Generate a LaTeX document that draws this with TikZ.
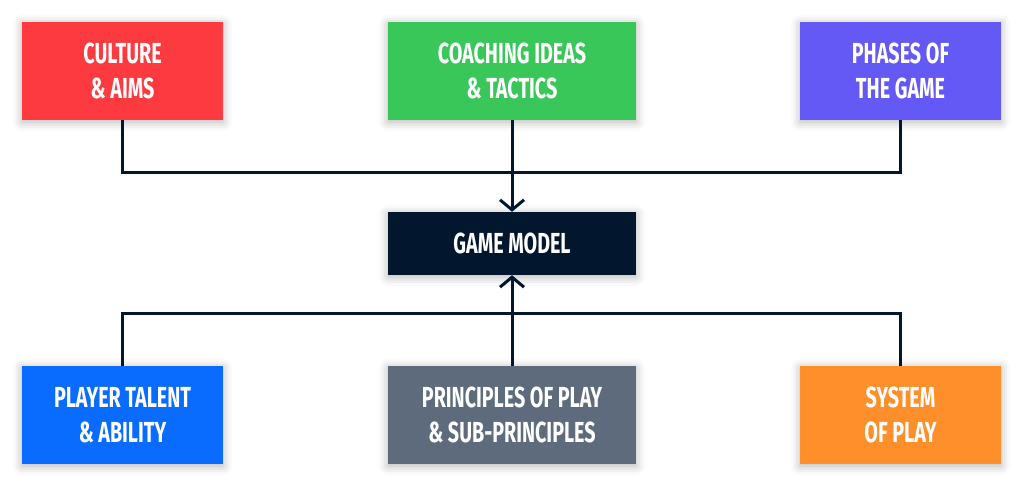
\documentclass[tikz,border=0pt]{standalone}
\usepackage{fontspec}
\newfontfamily\boxfont[FakeStretch=0.68]{Fira Sans}
\usepackage{xcolor}
\usetikzlibrary{arrows.meta}
\usetikzlibrary{shadows.blur}

\definecolor{navy}{HTML}{02172E}
\definecolor{boxred}{HTML}{FD3A3F}
\definecolor{boxgreen}{HTML}{39C75A}
\definecolor{boxpurple}{HTML}{6459F5}
\definecolor{boxblue}{HTML}{0A6CFF}
\definecolor{boxgray}{HTML}{5D6B7C}
\definecolor{boxorange}{HTML}{FF8F2B}

\tikzset{
    box/.style = {rectangle, minimum height = 98pt, align = center,
        text = white, inner sep = 0pt,
        font = \boxfont\bfseries\fontsize{29}{35}\selectfont,
        blur shadow = {shadow xshift = 0pt, shadow yshift = -2pt,
            shadow blur radius = 9pt, shadow opacity = 30}},
    narrowbox/.style = {box, minimum width = 201pt},
    widebox/.style = {box, minimum width = 248pt},
    link/.style = {draw = navy, line width = 3pt},
    tip/.style = {-{Straight Barb[length = 10pt, width = 24pt, line width = 3pt]}}
}

\begin{document}
\begin{tikzpicture}[x = 1pt, y = 1pt]
    \useasboundingbox (0, 0) rectangle (1024, 487);

    % top row
    \node [narrowbox, fill = boxred] (culture) at (122.5, 416) {CULTURE\\\& AIMS};
    \node [widebox, fill = boxgreen] (ideas) at (512, 416) {COACHING IDEAS\\\& TACTICS};
    \node [narrowbox, fill = boxpurple] (phases) at (900.5, 416) {PHASES OF\\THE GAME};

    % middle
    \node [widebox, fill = navy, minimum height = 63pt] (model) at (512, 243.5) {GAME MODEL};

    % bottom row
    \node [narrowbox, fill = boxblue] (talent) at (122.5, 72) {PLAYER TALENT\\\& ABILITY};
    \node [widebox, fill = boxgray] (principles) at (512, 72) {PRINCIPLES OF PLAY\\\& SUB-PRINCIPLES};
    \node [narrowbox, fill = boxorange] (system) at (900.5, 72) {SYSTEM\\OF PLAY};

    \coordinate (upper) at (512, 314);
    \coordinate (lower) at (512, 173);

    \draw [link] (culture.south) |- (upper) -| (phases.south);
    \draw [link, tip] (ideas.south) -- (model.north);
    \draw [link] (talent.north) |- (lower) -| (system.north);
    \draw [link, tip] (principles.north) -- (model.south);
\end{tikzpicture}
\end{document}
